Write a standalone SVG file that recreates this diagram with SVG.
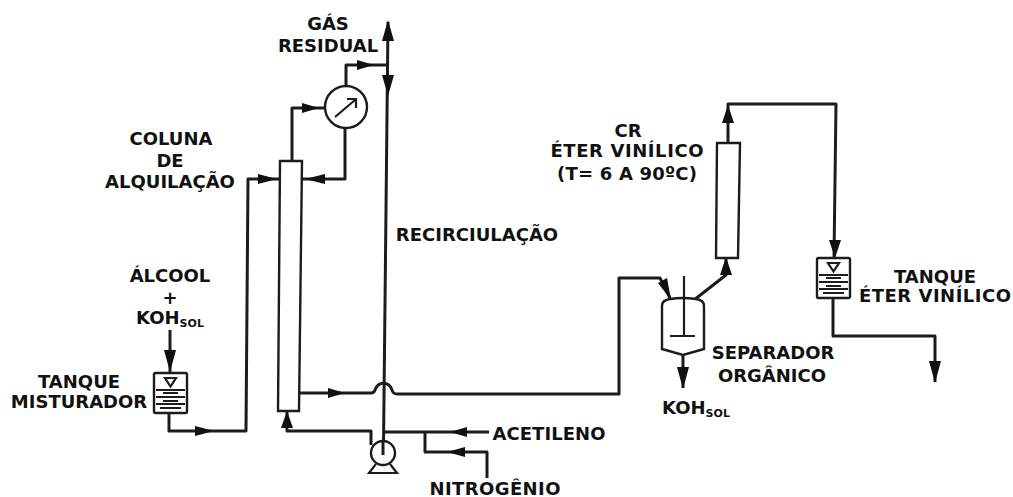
<svg xmlns="http://www.w3.org/2000/svg" width="1013" height="497" viewBox="0 0 1013 497">
<style>
.l{fill:none;stroke:#1c1c1c;stroke-width:3;stroke-linejoin:round}
.e{fill:#fff;stroke:#1c1c1c;stroke-width:2.4}
.s{fill:none;stroke:#1c1c1c;stroke-width:2.2}
.a{fill:#111}
text{font-family:"DejaVu Sans",Verdana,sans-serif;font-weight:700;font-size:18px;fill:#111;text-anchor:middle}
.sub{font-size:11px}
</style>
<defs>
<g id="tank">
<rect class="e" x="0" y="0" width="33" height="40" rx="1.5"/>
<path class="s" d="M11 5H22L16.500 13.500Z"/>
<path class="s" d="M2 17H31M9 20H24M2 24H31M9 28H24M2 31H31M6 35H27" stroke-width="1.8"/>
</g>
</defs>
<rect width="1013" height="497" fill="#fff"/>
<g id="connectors">
<path class="l" d="M388 22L383.500 445"/>
<path class="l" d="M346 88V65H388"/>
<path class="l" d="M292 161V108H325"/>
<path class="l" d="M345 128V179H301"/>
<path class="l" d="M169 413V431H246L248 179H280"/>
<path class="l" d="M170 330V373"/>
<path class="l" d="M299 393H371Q374 393 375 390C378 381 389 381 392 390Q393 394 397 394H619V278H660L670 298"/>
<path class="l" d="M694 300L726 275V258"/>
<path class="l" d="M683 355V388"/>
<path class="l" d="M728 143V104H836L834 258"/>
<path class="l" d="M833 298V336H935V382"/>
<path class="l" d="M287 412V431H371V445"/>
<path class="l" d="M384 432H489"/>
<path class="l" d="M425 432V452H487V478"/>
<path class="a" d="M388 20L394 41H382Z"/>
<path class="a" d="M388 96L382 75H394Z"/>
<path class="a" d="M374 65L357 60V70Z"/>
<path class="a" d="M319 108L302 103V113Z"/>
<path class="a" d="M305 179L325 174V184Z"/>
<path class="a" d="M277 179L258 174V184Z"/>
<path class="a" d="M214 431L195 426V436Z"/>
<path class="a" d="M170 372L164 350H176Z"/>
<path class="a" d="M345 393L328 388V398Z"/>
<path class="a" d="M671 300L658 283L667 278Z"/>
<path class="a" d="M726 257L732 275H720Z"/>
<path class="a" d="M683 389L677 367H689Z"/>
<path class="a" d="M728 105L734 123H722Z"/>
<path class="a" d="M835 258L829 240H841Z"/>
<path class="a" d="M935 383L929 361H941Z"/>
<path class="a" d="M287 411L281 428H293Z"/>
<path class="a" d="M450 432L467 427V437Z"/>
<path class="a" d="M447 452L465 447V457Z"/>
</g>
<g id="condenser">
<circle class="e" cx="346" cy="107" r="21"/>
<path class="s" d="M335 117L355 100M347 99H356V108" stroke-width="2.4"/>
</g>
<g id="coluna"><path class="e" d="M280 161H302L299 411H278Z"/></g>
<g id="cr"><path class="e" d="M717 143H740L738 258H716Z"/></g>
<g id="misturador"><use href="#tank" x="154" y="373"/></g>
<g id="tanque-eter"><use href="#tank" x="817" y="258"/></g>
<g id="separador">
<path class="e" d="M662 306Q662 300 670 299Q683 297 696 299Q704 300 704 306V349L683 355L662 349Z"/>
<path class="s" d="M684 276V337M670 336H695"/>
</g>
<g id="bomba">
<path class="s" d="M376 464L369 473H397L390 464"/>
<circle class="e" cx="383" cy="453" r="12"/>
<path class="l" d="M383 441V455"/>
</g>
<g id="labels">
<text x="328" y="30">GÁS</text>
<text x="328" y="52">RESIDUAL</text>
<text x="171" y="145">COLUNA</text>
<text x="170" y="167">DE</text>
<text x="170" y="188">ALQUILAÇÃO</text>
<text x="477" y="241">RECIRCIULAÇÃO</text>
<text x="170" y="282">ÁLCOOL</text>
<text x="170" y="304">+</text>
<text x="170" y="324">KOH<tspan class="sub" dy="3">SOL</tspan></text>
<text x="79" y="388">TANQUE</text>
<text x="79" y="408">MISTURADOR</text>
<text x="628" y="137">CR</text>
<text x="627" y="157" textLength="153">ÉTER VINÍLICO</text>
<text x="627" y="180" textLength="140">(T= 6 A 90ºC)</text>
<text x="935" y="283">TANQUE</text>
<text x="935" y="302" textLength="152">ÉTER VINÍLICO</text>
<text x="773" y="359">SEPARADOR</text>
<text x="772" y="382">ORGÂNICO</text>
<text x="696" y="414">KOH<tspan class="sub" dy="3">SOL</tspan></text>
<text x="549" y="440" textLength="113">ACETILENO</text>
<text x="495" y="495" textLength="131">NITROGÊNIO</text>
</g>
</svg>
